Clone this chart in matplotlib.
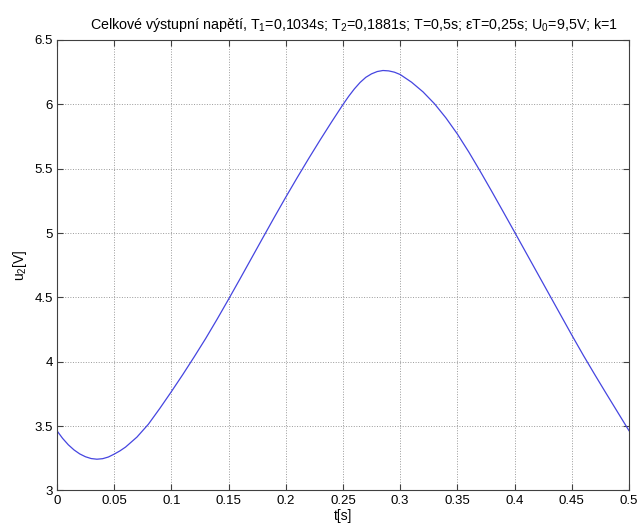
import matplotlib
matplotlib.use("Agg")
from matplotlib import pyplot as plt

plt.rcParams['font.family'] = ['Liberation Sans', 'DejaVu Sans']
plt.rcParams['mathtext.fontset'] = 'custom'
plt.rcParams['mathtext.rm'] = 'Liberation Sans'
plt.rcParams['mathtext.it'] = 'Liberation Sans:italic'

# values
t = [0.0, 0.005, 0.01, 0.015, 0.02, 0.025, 0.03, 0.035, 0.04, 0.045,
     0.05, 0.055, 0.06, 0.07, 0.08, 0.09, 0.1, 0.11, 0.12, 0.13,
     0.14, 0.15, 0.16, 0.17, 0.18, 0.19, 0.2, 0.21, 0.22, 0.23,
     0.24, 0.25, 0.255, 0.26, 0.265, 0.27, 0.275, 0.28, 0.285, 0.29,
     0.295, 0.3, 0.31, 0.32, 0.33, 0.34, 0.35, 0.36, 0.37, 0.38,
     0.39, 0.4, 0.41, 0.42, 0.43, 0.44, 0.45, 0.46, 0.47, 0.48,
     0.49, 0.5]
u2 = [3.465, 3.405, 3.355, 3.315, 3.284, 3.262, 3.248, 3.243, 3.247, 3.260,
      3.282, 3.307, 3.337, 3.415, 3.515, 3.638, 3.767, 3.900, 4.038, 4.180,
      4.330, 4.485, 4.643, 4.803, 4.963, 5.122, 5.278, 5.430, 5.578, 5.722,
      5.862, 5.998, 6.062, 6.120, 6.170, 6.210, 6.237, 6.255, 6.263, 6.260,
      6.250, 6.232, 6.172, 6.097, 6.005, 5.895, 5.770, 5.630, 5.480, 5.325,
      5.167, 5.008, 4.848, 4.688, 4.528, 4.368, 4.208, 4.052, 3.902, 3.755,
      3.610, 3.465]

xticks = [0, 0.05, 0.1, 0.15, 0.2, 0.25, 0.3, 0.35, 0.4, 0.45, 0.5]
xticklabels = ['0', '0.05', '0.1', '0.15', '0.2', '0.25', '0.3', '0.35', '0.4', '0.45', '0.5']
yticks = [3, 3.5, 4, 4.5, 5, 5.5, 6, 6.5]
yticklabels = ['3', '3.5', '4', '4.5', '5', '5.5', '6', '6.5']

title = ("Celkové výstupní napětí, T$_1$=0,1034s; T$_2$=0,1881s; T=0,5s; "
         "εT=0,25s; U$_0$=9,5V; k=1")

fig = plt.figure(figsize=(6.39, 5.27), dpi=100)
ax = fig.add_axes([0.089, 0.0693, 0.8953, 0.8548])

ax.plot(t, u2, color='#4545e0', lw=0.9)

ax.set_xlim(0, 0.5)
ax.set_ylim(3, 6.5)
ax.set_xticks(xticks)
ax.set_xticklabels(xticklabels)
ax.set_yticks(yticks)
ax.set_yticklabels(yticklabels)

ax.grid(True, linestyle=':', color='#9a9a9a', lw=0.7)
ax.tick_params(direction='in', length=4, width=0.8, color='#404040',
               top=True, right=True, labelsize=9.5, pad=3)
for s in ax.spines.values():
    s.set_color('#404040')
    s.set_linewidth(0.8)

ax.set_title(title, fontsize=10.3, pad=8, x=0.52)
ax.set_xlabel('t[s]', fontsize=10, labelpad=1.5)
ax.set_ylabel('u$_2$[V]', fontsize=10, labelpad=4)

fig.savefig('out.png', dpi=100, facecolor='white')
